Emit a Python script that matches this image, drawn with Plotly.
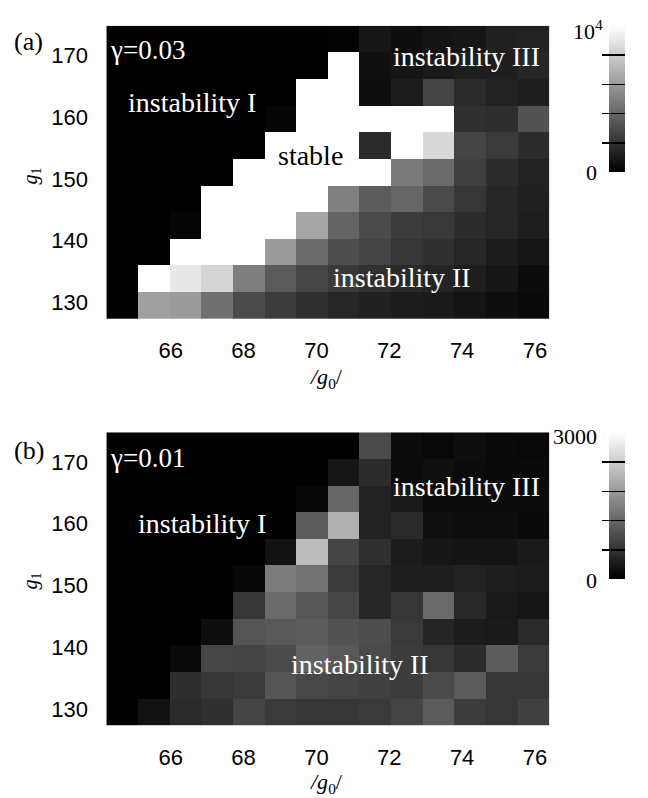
import plotly.graph_objects as go

# ---------------- data ----------------
g0_values = [64.67, 65.54, 66.41, 67.28, 68.14, 69.01, 69.88, 70.75,
             71.62, 72.49, 73.36, 74.22, 75.09, 75.96]
g1_values = [129.46, 133.78, 138.10, 142.41, 146.73, 151.05, 155.37,
             159.69, 164.00, 168.32, 172.64]
x_ticks = [66, 68, 70, 72, 74, 76]
y_ticks = [130, 140, 150, 160, 170]

# panel (a) gamma = 0.03 (rows from g1=low to high)
z_a = [
    [0, 6270, 6080, 4390, 2900, 2350, 1880, 1490, 1250, 1100, 1020, 780, 550, 390],
    [0, 10000, 9100, 8300, 4940, 3530, 2740, 2270, 1880, 1650, 1410, 1180, 860, 470],
    [0, 0, 10000, 10000, 10000, 6040, 4240, 3060, 2670, 2120, 1880, 1490, 1100, 820],
    [0, 0, 200, 10000, 10000, 10000, 6510, 3920, 2900, 2350, 2200, 1720, 1490, 1180],
    [0, 0, 0, 10000, 10000, 10000, 10000, 5020, 3610, 4000, 2900, 2120, 1490, 1250],
    [0, 0, 0, 0, 10000, 10000, 10000, 10000, 10000, 4780, 4160, 2510, 1720, 1330],
    [0, 0, 0, 0, 0, 10000, 10000, 10000, 1650, 10000, 8470, 2670, 2270, 1720],
    [0, 0, 0, 0, 0, 200, 10000, 10000, 10000, 10000, 10000, 1880, 1800, 3210],
    [0, 0, 0, 0, 0, 0, 10000, 10000, 550, 1100, 2670, 1650, 1330, 1180],
    [0, 0, 0, 0, 0, 0, 0, 10000, 630, 780, 1020, 1180, 1180, 1490],
    [0, 0, 0, 0, 0, 0, 0, 80, 860, 550, 780, 860, 1250, 1330],
]

# panel (b) gamma = 0.01
z_b = [
    [0, 200, 490, 560, 800, 680, 640, 640, 680, 800, 1060, 710, 640, 750],
    [0, 0, 540, 640, 680, 990, 850, 800, 750, 710, 870, 1060, 640, 640],
    [0, 0, 90, 820, 800, 870, 1150, 1030, 870, 710, 640, 520, 1080, 680],
    [0, 0, 0, 160, 990, 1030, 1080, 960, 920, 680, 420, 330, 310, 490],
    [0, 0, 0, 0, 640, 1250, 1010, 820, 450, 640, 1250, 470, 280, 250],
    [0, 0, 0, 0, 70, 1460, 1340, 680, 450, 350, 350, 400, 350, 330],
    [0, 0, 0, 0, 0, 210, 2210, 800, 560, 330, 260, 240, 240, 310],
    [0, 0, 0, 0, 0, 0, 1060, 2070, 400, 490, 190, 160, 160, 120],
    [0, 0, 0, 0, 0, 0, 70, 1200, 400, 280, 140, 140, 140, 140],
    [0, 0, 0, 0, 0, 0, 0, 260, 520, 140, 190, 140, 120, 120],
    [0, 0, 0, 0, 0, 0, 0, 0, 870, 140, 90, 160, 120, 90],
]

zmax_a = 10000
zmax_b = 3000
cbar_ticks_a = [0, 2000, 4000, 6000, 8000, 10000]
cbar_ticks_b = [0, 600, 1200, 1800, 2400, 3000]

# ---------------- layout helpers ----------------
# the page's body margin is removed (post_script below), so figure
# pixels coincide with window pixels
W, H = 648, 798


def px(x):
    return x / W


def py(y):
    return 1 - y / H


gray = [[0, "rgb(0,0,0)"], [1, "rgb(255,255,255)"]]
serif = "Liberation Serif, Times New Roman, serif"
sans = "Liberation Sans, Arial, sans-serif"

fig = go.Figure()


def cbar(ycenter_px, ticks):
    return dict(
        x=px(619), xanchor="left", y=py(ycenter_px), yanchor="middle",
        lenmode="pixels", len=146, thicknessmode="pixels", thickness=16,
        outlinewidth=0, xpad=0, ypad=0,
        tickmode="array", tickvals=ticks, ticks="inside", ticklen=23,
        tickwidth=1.5, tickcolor="black", showticklabels=False,
    )


fig.add_trace(go.Heatmap(
    x=g0_values, y=g1_values, z=z_a, zmin=0, zmax=zmax_a,
    colorscale=gray, xaxis="x", yaxis="y",
    colorbar=cbar(99, cbar_ticks_a),
))
fig.add_trace(go.Heatmap(
    x=g0_values, y=g1_values, z=z_b, zmin=0, zmax=zmax_b,
    colorscale=gray, xaxis="x2", yaxis="y2",
    colorbar=cbar(506, cbar_ticks_b),
))

xrange_ = [64.235, 76.395]
yrange_ = [127.3, 174.8]

axx = dict(range=xrange_, tickmode="array", tickvals=x_ticks,
           ticks="outside", ticklen=12, tickcolor="rgba(0,0,0,0)",
           showgrid=False, zeroline=False, showline=False,
           tickfont=dict(family=sans, size=22, color="black"))
axy = dict(range=yrange_, tickmode="array", tickvals=y_ticks,
           ticks="outside", ticklen=13, tickcolor="rgba(0,0,0,0)",
           showgrid=False, zeroline=False, showline=False,
           tickfont=dict(family=sans, size=22, color="black"))

fig.update_layout(
    width=W, height=H,
    margin=dict(l=0, r=0, t=0, b=0),
    paper_bgcolor="white", plot_bgcolor="white",
    xaxis=dict(axx, domain=[px(108), px(558)], anchor="y"),
    yaxis=dict(axy, domain=[py(319), py(25.7)], anchor="x"),
    xaxis2=dict(axx, domain=[px(108), px(558)], anchor="y2"),
    yaxis2=dict(axy, domain=[py(725.7), py(432.3)], anchor="x2"),
    showlegend=False,
)

ann = []


def text(x, y, s, color="white", size=28, xanchor="center", family=serif,
         angle=0):
    ann.append(dict(x=px(x), y=py(y), xref="paper", yref="paper", text=s,
                    showarrow=False, xanchor=xanchor, yanchor="middle",
                    textangle=angle,
                    font=dict(family=family, size=size, color=color)))


# panel (a)
text(110, 50, "γ=0.03", xanchor="left", size=27)
text(195, 102, "instability I")
text(315, 155, "stable", color="black")
text(474, 57, "instability III")
text(408, 277, "instability II")
text(12, 42, "(a)", color="black", xanchor="left", size=26)
# panel (b)
text(110, 458, "γ=0.01", xanchor="left", size=27)
text(205, 523, "instability I")
text(474, 486, "instability III")
text(366, 664, "instability II")
text(12, 450, "(b)", color="black", xanchor="left", size=26)

# axis titles
for yoff in (0, 405):
    text(331, 378 + yoff, "<i>/g</i><sub>0</sub>/", color="black", size=22)
    text(31, 176 + yoff, "<i>g</i><sub>1</sub>", color="black", size=20,
         angle=-90)

# colorbar end labels
text(614, 30, "10<sup>4</sup>", color="black", size=22, xanchor="right")
text(608, 172, "0", color="black", size=22, xanchor="right")
text(608, 436, "3000", color="black", size=22, xanchor="right")
text(608, 580, "0", color="black", size=22, xanchor="right")

fig.update_layout(annotations=ann)
fig.write_html(
    "out.html",
    config={"displayModeBar": False, "staticPlot": True},
    post_script="document.body.style.margin='0px';"
                "document.body.style.padding='0px';"
                "document.body.style.overflow='hidden';",
)
